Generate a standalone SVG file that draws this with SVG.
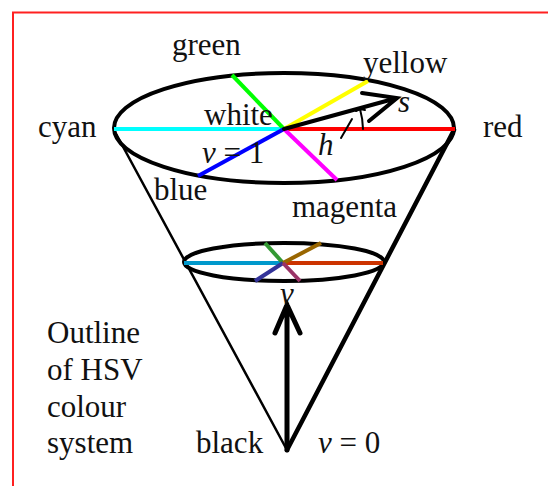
<svg xmlns="http://www.w3.org/2000/svg" width="548" height="486" viewBox="0 0 548 486">
<style>
text{font-family:"Liberation Serif","Times New Roman",serif;font-size:31px;fill:#111}
.i{font-style:italic}
.k{stroke:#000;fill:none;stroke-linecap:round}
.sp{stroke-width:4;stroke-linecap:butt}
</style>
<rect x="13" y="12.5" width="600" height="600" fill="none" stroke="#ff2020" stroke-width="2"/>
<g id="cone">
<line class="k" x1="114" y1="130" x2="287" y2="450" stroke-width="2.5"/>
<line class="k" x1="454" y1="130" x2="287" y2="450" stroke-width="4.5"/>
<ellipse class="k" cx="284" cy="128" rx="170" ry="55" stroke-width="4"/>
<ellipse class="k" cx="284" cy="262" rx="100" ry="19" stroke-width="4"/>
</g>
<g id="top-spokes">
<line class="sp" x1="114" y1="129" x2="284" y2="129" stroke="#00ffff"/>
<line class="sp" x1="284" y1="129" x2="455" y2="129" stroke="#ff0000"/>
<line class="sp" x1="284" y1="129" x2="232" y2="75" stroke="#00ff00"/>
<line class="sp" x1="284" y1="129" x2="368" y2="81" stroke="#ffff00"/>
<line class="sp" x1="284" y1="129" x2="198" y2="176" stroke="#0000ff"/>
<line class="sp" x1="284" y1="129" x2="337" y2="180" stroke="#ff00ff"/>
</g>
<g id="bottom-spokes">
<line class="sp" x1="184" y1="263" x2="283" y2="263" stroke="#0099cc" stroke-width="5"/>
<line class="sp" x1="283" y1="263" x2="383" y2="263" stroke="#cc3300" stroke-width="5"/>
<line class="sp" x1="283" y1="263" x2="265" y2="243" stroke="#339933"/>
<line class="sp" x1="283" y1="263" x2="321" y2="243" stroke="#996600"/>
<line class="sp" x1="283" y1="263" x2="255" y2="281" stroke="#333399"/>
<line class="sp" x1="283" y1="263" x2="300" y2="281" stroke="#993366"/>
</g>
<g id="connectors">
<path class="k" d="M284,129 L397,98 M362,93 L397,98 L369,121" stroke-width="4" stroke-linejoin="miter"/>
<path class="k" d="M363,129 A79,79 0 0 0 360,109 M356,111 L360,109 L365,110" stroke-width="2"/>
<line class="k" x1="341" y1="138" x2="352" y2="119" stroke-width="2"/>
<path class="k" d="M287,450 L287,305 M275,333 L287,305 L300,333" stroke-width="5" stroke-linejoin="miter"/>
</g>
<g id="labels">
<text x="172" y="55">green</text>
<text x="363" y="73">yellow</text>
<text x="38" y="137">cyan</text>
<text x="483" y="137">red</text>
<text x="204" y="125">white</text>
<text class="i" x="398" y="112">s</text>
<text class="i" x="318" y="155">h</text>
<text x="202" y="163"><tspan class="i">v</tspan> = 1</text>
<text x="154" y="200">blue</text>
<text x="292" y="217">magenta</text>
<text class="i" x="280" y="304">v</text>
<text x="47" y="343">Outline</text>
<text x="47" y="380">of HSV</text>
<text x="47" y="417">colour</text>
<text x="47" y="453">system</text>
<text x="196" y="453">black</text>
<text x="318" y="453"><tspan class="i">v</tspan> = 0</text>
</g>
</svg>
